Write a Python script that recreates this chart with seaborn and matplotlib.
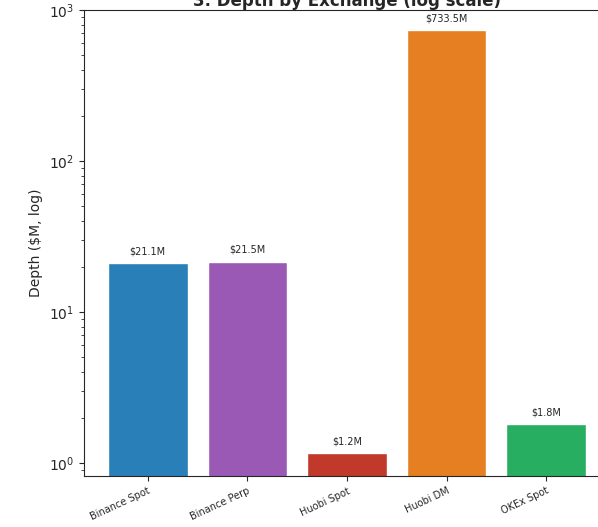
import matplotlib
matplotlib.use("Agg")
import matplotlib.pyplot as plt
import seaborn as sns
import pandas as pd

# Data
exchanges = ["Binance Spot", "Binance Perp", "Huobi Spot", "Huobi DM", "OKEx Spot"]
depth_musd = [21.1, 21.5, 1.16, 733.5, 1.8]
bar_colors = ["#2980b9", "#9b59b6", "#c0392b", "#e67e22", "#27ae60"]

df = pd.DataFrame({"exchange": exchanges, "depth": depth_musd})

sns.set_style("ticks")
plt.rcParams['font.family'] = ['DejaVu Sans']

fig = plt.figure(figsize=(5.98, 5.27), dpi=100)
# the panel is cut from a larger figure: axes run past the right edge
ax = fig.add_axes([84 / 598, 1 - 476 / 527, 526 / 598, 466 / 527])

sns.barplot(data=df, x="exchange", y="depth", hue="exchange", palette=bar_colors,
            width=0.8, legend=False, saturation=1, ax=ax)
ax.set_yscale("log")
ax.set_ylim(0.82, 1000)
ax.set_xlim(-0.64, 4.64)

for i, v in enumerate(depth_musd):
    ax.annotate(f"${v:.1f}M", (i, v), xytext=(0, 5), textcoords="offset points",
                ha="center", va="bottom", fontsize=7)

ax.set_title("3. Depth by Exchange (log scale)", fontsize=12, fontweight="bold", pad=3)
ax.set_xlabel("")
ax.set_ylabel("Depth ($M, log)", fontsize=10)
ax.tick_params(axis="x", labelsize=7)
plt.setp(ax.get_xticklabels(), rotation=25, ha="right", rotation_mode="anchor")
ax.spines["right"].set_visible(False)

fig.savefig("out.png", dpi=100)
